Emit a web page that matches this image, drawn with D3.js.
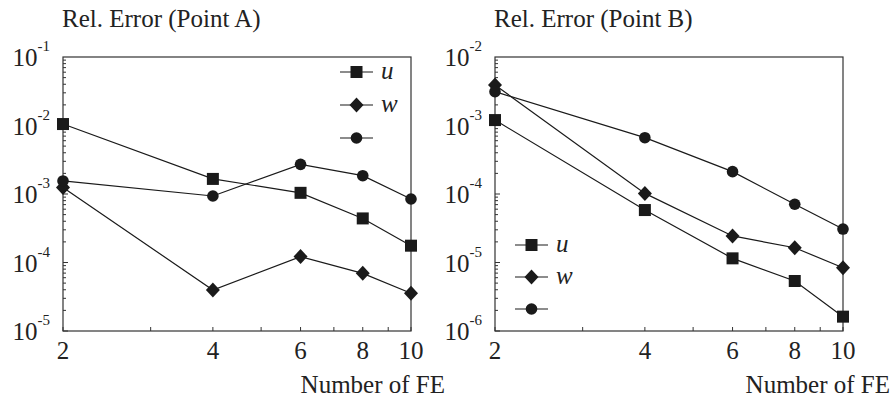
<!DOCTYPE html>
<html>
<head>
<meta charset="utf-8">
<script src="https://cdn.jsdelivr.net/npm/d3@7"></script>
<style>
  body { margin: 0; background: #fff; }
</style>
</head>
<body>
<div id="chart"></div>
<script>
// data
var feCounts = [2, 4, 6, 8, 10];
var xTickValues = [2, 4, 6, 8, 10];

// Point A
var errAu = [1.05e-2, 1.66e-3, 1.04e-3, 4.4e-4, 1.76e-4];
var errAw = [1.24e-3, 3.97e-5, 1.22e-4, 6.95e-5, 3.55e-5];
var errAc = [1.55e-3, 9.35e-4, 2.71e-3, 1.85e-3, 8.45e-4];
var yExpA = [-1, -2, -3, -4, -5];

// Point B
var errBu = [1.2e-3, 5.83e-5, 1.15e-5, 5.37e-6, 1.62e-6];
var errBw = [3.9e-3, 1.02e-4, 2.44e-5, 1.64e-5, 8.4e-6];
var errBc = [3.12e-3, 6.64e-4, 2.12e-4, 7.08e-5, 3.08e-5];
var yExpB = [-2, -3, -4, -5, -6];

var seriesNames = ["u", "w", ""];
var seriesShapes = ["square", "diamond", "circle"];

var W = 895, H = 407;
var plotW = 348, plotH = 274, plotTop = 57;
var fontMain = 25, fontSup = 15;
var serif = "'Liberation Serif', 'Times New Roman', Times, 'DejaVu Serif', serif";

var svg = d3.select("#chart").append("svg")
    .attr("width", W)
    .attr("height", H)
    .attr("font-family", serif);

function drawMarker(g, shape, cx, cy) {
    if (shape === "square") {
        g.append("rect")
            .attr("x", cx - 6).attr("y", cy - 6)
            .attr("width", 12).attr("height", 12)
            .attr("fill", "#1a1a1a");
    } else if (shape === "diamond") {
        g.append("path")
            .attr("d", "M" + cx + "," + (cy - 7.5) + "L" + (cx + 7) + "," + cy +
                "L" + cx + "," + (cy + 7.5) + "L" + (cx - 7) + "," + cy + "Z")
            .attr("fill", "#1a1a1a");
    } else {
        g.append("circle")
            .attr("cx", cx).attr("cy", cy).attr("r", 5.8)
            .attr("fill", "#1a1a1a");
    }
}

function drawPanel(cfg) {
    var g = svg.append("g")
        .attr("transform", "translate(" + cfg.left + "," + plotTop + ")");

    var x = d3.scaleLog().domain([2, 10]).range([0, plotW]);
    var yMaxExp = d3.max(cfg.yExp), yMinExp = d3.min(cfg.yExp);
    var y = d3.scaleLog()
        .domain([Math.pow(10, yMinExp), Math.pow(10, yMaxExp)])
        .range([plotH, 0]);

    // frame
    g.append("rect")
        .attr("x", 0).attr("y", 0)
        .attr("width", plotW).attr("height", plotH)
        .attr("fill", "none")
        .attr("stroke", "#333")
        .attr("stroke-width", 1.2);

    // x ticks, inward
    var xMinor = d3.range(2, 11);
    g.selectAll(".xtick").data(xMinor).enter().append("line")
        .attr("x1", function (d) { return x(d); })
        .attr("x2", function (d) { return x(d); })
        .attr("y1", plotH)
        .attr("y2", plotH - 4)
        .attr("stroke", "#333");

    // y ticks, inward (minor at 2..9 of each decade)
    var yMinor = [];
    for (var e = yMinExp; e < yMaxExp; e++) {
        for (var m = 1; m < 10; m++) yMinor.push({ v: m * Math.pow(10, e), major: m === 1 });
    }
    g.selectAll(".ytick").data(yMinor).enter().append("line")
        .attr("x1", 0)
        .attr("x2", function (d) { return d.major ? 5 : 3; })
        .attr("y1", function (d) { return y(d.v); })
        .attr("y2", function (d) { return y(d.v); })
        .attr("stroke", "#333");

    // x tick labels
    g.selectAll(".xlab").data(xTickValues).enter().append("text")
        .attr("x", function (d) { return x(d); })
        .attr("y", plotH + 28)
        .attr("text-anchor", "middle")
        .attr("font-size", fontMain)
        .attr("fill", "#222")
        .text(function (d) { return d; });

    // y tick labels 10^n
    var ylab = g.selectAll(".ylab").data(cfg.yExp).enter().append("text")
        .attr("x", -13)
        .attr("y", function (d) { return y(Math.pow(10, d)) + 9; })
        .attr("text-anchor", "end")
        .attr("font-size", fontMain)
        .attr("fill", "#222");
    ylab.append("tspan").text("10");
    ylab.append("tspan")
        .attr("dy", -15)
        .attr("font-size", fontSup)
        .text(function (d) { return d; });

    // title and axis label
    svg.append("text")
        .attr("x", cfg.left - 1)
        .attr("y", 27)
        .attr("font-size", fontMain)
        .attr("fill", "#222")
        .text(cfg.title);
    svg.append("text")
        .attr("x", cfg.xLabelRight)
        .attr("y", 393)
        .attr("text-anchor", "end")
        .attr("font-size", fontMain)
        .attr("fill", "#222")
        .text("Number of FE");

    // series
    var line = d3.line()
        .x(function (d) { return x(d[0]); })
        .y(function (d) { return y(d[1]); });

    cfg.series.forEach(function (vals, si) {
        var pts = feCounts.map(function (f, i) { return [f, vals[i]]; });
        g.append("path")
            .attr("d", line(pts))
            .attr("fill", "none")
            .attr("stroke", "#1a1a1a")
            .attr("stroke-width", 1.2);
        pts.forEach(function (p) {
            drawMarker(g, seriesShapes[si], x(p[0]), y(p[1]));
        });
    });

    // legend
    var lg = svg.append("g")
        .attr("transform", "translate(" + cfg.legendX + "," + cfg.legendY + ")");
    seriesNames.forEach(function (name, i) {
        var ly = i * cfg.legendStep;
        lg.append("line")
            .attr("x1", 0).attr("x2", 33)
            .attr("y1", ly).attr("y2", ly)
            .attr("stroke", "#1a1a1a")
            .attr("stroke-width", 1.2);
        drawMarker(lg, seriesShapes[i], 16.5, ly);
        lg.append("text")
            .attr("x", 41)
            .attr("y", ly + 7)
            .attr("font-size", fontMain)
            .attr("font-style", "italic")
            .attr("fill", "#222")
            .text(name);
    });
}

drawPanel({
    left: 63,
    title: "Rel. Error (Point A)",
    yExp: yExpA,
    series: [errAu, errAw, errAc],
    xLabelRight: 445,
    legendX: 340, legendY: 72, legendStep: 33
});

drawPanel({
    left: 495,
    title: "Rel. Error (Point B)",
    yExp: yExpB,
    series: [errBu, errBw, errBc],
    xLabelRight: 890,
    legendX: 515, legendY: 245, legendStep: 32
});
</script>
</body>
</html>
